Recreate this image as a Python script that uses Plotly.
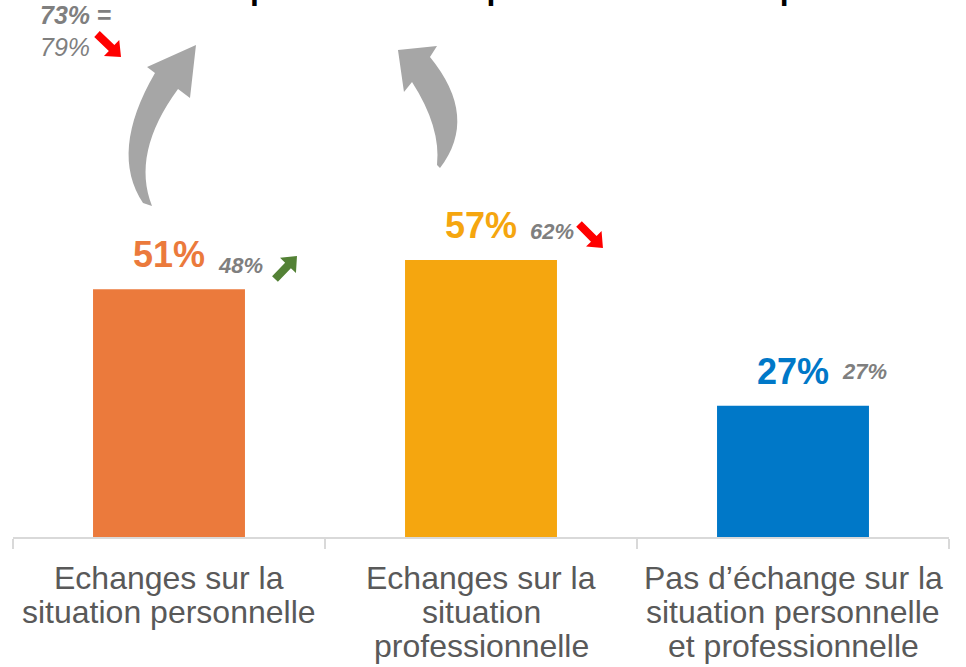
import math
import plotly.graph_objects as go

# data
categories = ['Echanges sur la<br>situation personnelle',
              'Echanges sur la<br>situation<br>professionnelle',
              'Pas d’échange sur la<br>situation personnelle<br>et professionnelle']
values = [51, 57, 27]
previous = [48, 62, 27]
trend = ['up', 'down', 'equal']
bar_colors = ['#EB7A3C', '#F5A60F', '#0078C8']
total_now = 73
total_before = 79
title_line = 'personnelle ou professionnelle du patient'

FONT = 'Arial, Liberation Sans, sans-serif'
GREY = '#7F7F7F'

# plot area in pixels
W, H = 966, 667
L, R, T, B = 13, 17, 0, 130
PW, PH = W - L - R, H - T - B


def px(x):
    return (x - L) / PW


def py(y):
    return (H - B - y) / PH


def path(cmds):
    out = []
    for c in cmds:
        if c[0] == 'Z':
            out.append('Z')
        else:
            pts = ' '.join('%.4f,%.4f' % (px(x), py(y)) for x, y in c[1:])
            out.append(c[0] + ' ' + pts)
    return ' '.join(out)


def block_arrow(tail, tip, shaft=4, head=11, head_len=13):
    # small thick straight arrow, built in pixels
    dx, dy = tip[0] - tail[0], tip[1] - tail[1]
    n = math.hypot(dx, dy)
    ux, uy = dx / n, dy / n
    nx, ny = -uy, ux
    bx, by = tip[0] - ux * head_len, tip[1] - uy * head_len
    pts = [(tail[0] + nx * shaft, tail[1] + ny * shaft),
           (bx + nx * shaft, by + ny * shaft),
           (bx + nx * head, by + ny * head),
           tip,
           (bx - nx * head, by - ny * head),
           (bx - nx * shaft, by - ny * shaft),
           (tail[0] - nx * shaft, tail[1] - ny * shaft)]
    return path([('M', pts[0])] + [('L', p) for p in pts[1:]] + [('Z',)])


fig = go.Figure()
fig.add_trace(go.Bar(x=categories, y=values, marker=dict(color=bar_colors, line=dict(width=0)),
                     hoverinfo='skip'))

ann = []
prev_shift = [9, 14, 20]
for i, (v, p, t) in enumerate(zip(values, previous, trend)):
    ann.append(dict(x=i, y=v, xref='x', yref='y', text='<b>%d%%</b>' % v, showarrow=False,
                    xanchor='center', yanchor='bottom', yshift=12,
                    font=dict(size=36, color=bar_colors[i], family=FONT)))
    ann.append(dict(x=i + 0.15, y=v, xref='x', yref='y', text='<b><i>%d%%</i></b>' % p,
                    showarrow=False, xanchor='left', yanchor='bottom', yshift=prev_shift[i],
                    font=dict(size=22, color=GREY, family=FONT)))

# top left totals
ann.append(dict(x=px(38), y=py(31), xref='paper', yref='paper', xanchor='left', yanchor='bottom',
                text='<b><i>%d%%</i> =</b>' % total_now, showarrow=False,
                font=dict(size=25, color=GREY, family=FONT)))
ann.append(dict(x=px(38), y=py(63), xref='paper', yref='paper', xanchor='left', yanchor='bottom',
                text='<i>%d%%</i>' % total_before, showarrow=False,
                font=dict(size=25, color=GREY, family=FONT)))

# title (mostly cut off at the top)
ann.append(dict(x=px(567), y=py(8), xref='paper', yref='paper', xanchor='center', yanchor='bottom',
                text='<b>%s</b>' % title_line, showarrow=False,
                font=dict(size=32, color='black', family=FONT)))

# category labels, one line each to get tight line spacing
for i, c in enumerate(categories):
    for j, line in enumerate(c.split('<br>')):
        ann.append(dict(x=i, y=py(598 + 34 * j), xref='x', yref='paper', text=line,
                        showarrow=False, xanchor='center', yanchor='bottom',
                        font=dict(size=32, color='#595959', family=FONT)))

# grey curved arrows
left_arrow = path([('M', (196, 45)), ('L', (190, 98)), ('L', (178, 89)),
                   ('Q', (131, 153), (152, 206)), ('L', (143, 203)),
                   ('Q', (109, 152), (155, 73)), ('L', (147, 67)), ('Z',)])
right_arrow = path([('M', (398, 50)), ('L', (437, 46)), ('L', (430, 57)),
                    ('Q', (479, 117), (440, 168)), ('L', (437, 165)),
                    ('Q', (441, 127), (412, 82)), ('L', (404, 92)), ('Z',)])
shapes = [dict(type='path', path=p, xref='paper', yref='paper', fillcolor='#A6A6A6',
               line=dict(width=0)) for p in (left_arrow, right_arrow)]

# trend arrows
shapes.append(dict(type='path', path=block_arrow((275, 279), (297, 256)), xref='paper',
                   yref='paper', fillcolor='#538135', line=dict(width=0)))
shapes.append(dict(type='path', path=block_arrow((579, 224), (603, 248)), xref='paper',
                   yref='paper', fillcolor='#FF0000', line=dict(width=0)))
shapes.append(dict(type='path', path=block_arrow((97, 34), (121, 57)), xref='paper',
                   yref='paper', fillcolor='#FF0000', line=dict(width=0)))

fig.update_layout(
    width=W, height=H,
    margin=dict(l=L, r=R, t=T, b=B),
    paper_bgcolor='white', plot_bgcolor='white',
    bargap=0.513,
    showlegend=False,
    annotations=ann,
    shapes=shapes,
    xaxis=dict(showline=True, linecolor='#D9D9D9', linewidth=1.5, ticks='outside',
               tickson='boundaries', ticklen=10, tickcolor='#D9D9D9', tickwidth=1.5,
               showticklabels=False, showgrid=False, fixedrange=True),
    yaxis=dict(range=[0, 110.5], visible=False, showgrid=False, fixedrange=True),
)

# page body has a default 8px margin; drop it so the figure sits at the top-left corner
fig.write_html('out.html', config={'displayModeBar': False},
               post_script="document.body.style.margin='0';")
